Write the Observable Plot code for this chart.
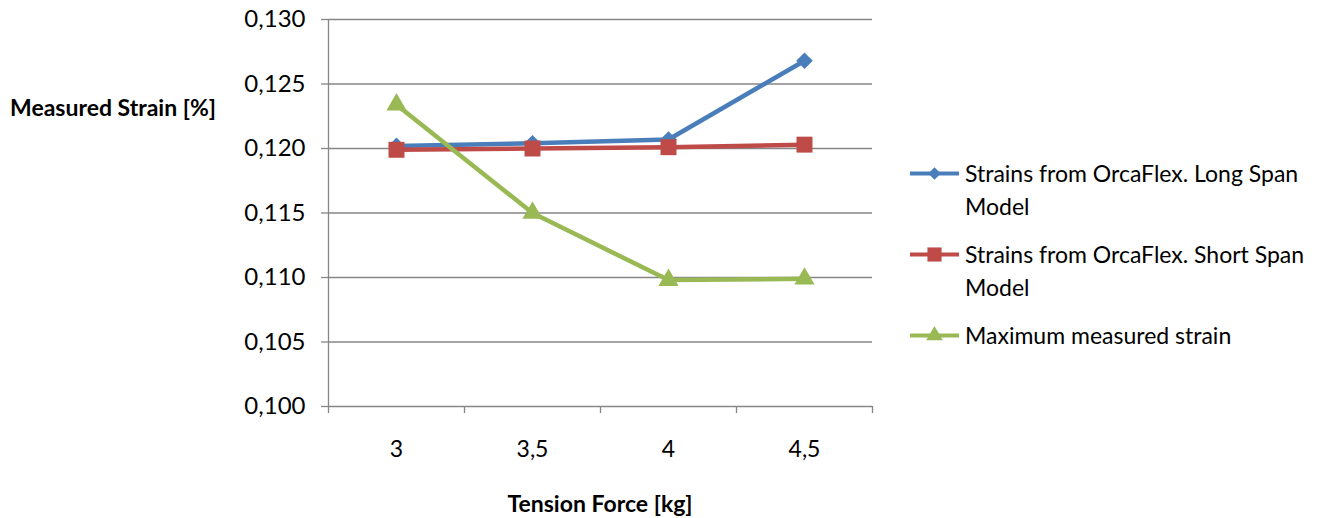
<!DOCTYPE html>
<html>
<head>
<meta charset="utf-8">
<script src="https://cdn.jsdelivr.net/npm/d3@7"></script>
<script src="https://cdn.jsdelivr.net/npm/@observablehq/plot@0.6"></script>
<style>
  html, body { margin: 0; padding: 0; background: #fff; }
  #wrap { position: relative; width: 1320px; height: 518px; font-family: Lato, "Open Sans", sans-serif; color: #000; }
  .title { position: absolute; font-weight: bold; font-size: 23px; white-space: nowrap; line-height: 1; }
  #legend { position: absolute; left: 910px; top: 157px; width: 410px; font-size: 23px; }
  .entry { display: flex; align-items: flex-start; margin-bottom: 15px; }
  .entry svg { flex: none; margin-right: 6px; }
  .entry span { line-height: 33px; width: 355px; }
</style>
</head>
<body>
<div id="wrap"></div>
<script>
const forces = [3, 3.5, 4, 4.5];
const forceLabels = ["3", "3,5", "4", "4,5"];
const xBounds = [2.75, 3.25, 3.75, 4.25, 4.75];
const seriesNames = [
  "Strains from OrcaFlex. Long Span Model",
  "Strains from OrcaFlex. Short Span Model",
  "Maximum measured strain"
];
const longSpan = [0.1202, 0.1204, 0.1207, 0.1268];
const shortSpan = [0.1199, 0.1200, 0.1201, 0.1203];
const maxMeasured = [0.1234, 0.1150, 0.1098, 0.1099];
const yTicks = [0.100, 0.105, 0.110, 0.115, 0.120, 0.125, 0.130];
const colors = ["#4a7ebb", "#be4b48", "#98b954"];
const symbols = ["diamond2", "square", "triangle"];
const yTitle = "Measured Strain [%]";
const xTitle = "Tension Force [kg]";

const seriesValues = [longSpan, shortSpan, maxMeasured];
const rows = [];
seriesNames.forEach((s, k) => forces.forEach((f, i) => rows.push({series: s, force: f, value: seriesValues[k][i]})));

const fmt = d => d3.format(".3f")(d).replace(".", ",");
const grid = "#868686";

const chart = Plot.plot({
  width: 1320, height: 518,
  marginLeft: 328, marginRight: 448, marginTop: 19, marginBottom: 112,
  x: {domain: [2.75, 4.75]},
  y: {domain: [0.100, 0.130]},
  color: {domain: seriesNames, range: colors},
  symbol: {domain: seriesNames, range: symbols},
  style: {fontFamily: "Lato, 'Open Sans', sans-serif", fontSize: "23px", color: "#000", background: "#fff", overflow: "visible"},
  marks: [
    Plot.gridY(yTicks, {stroke: grid, strokeOpacity: 1, strokeWidth: 1.3}),
    Plot.ruleX([2.75], {stroke: grid, strokeWidth: 1.3}),
    Plot.axisY(yTicks, {tickSize: 7, tickPadding: 16, tickFormat: fmt, stroke: grid, strokeWidth: 1.3, label: null, fontSize: 24, fill: "#000"}),
    Plot.axisX(xBounds, {tickSize: 7, tickFormat: () => "", stroke: grid, strokeWidth: 1.3, label: null}),
    Plot.axisX(forces, {tickSize: 0, tickPadding: 34, tickFormat: d => forceLabels[forces.indexOf(d)], label: null, fontSize: 23, fill: "#000"}),
    Plot.line(rows, {x: "force", y: "value", z: "series", stroke: "series", strokeWidth: 4.5}),
    Plot.dot(rows.filter(d => d.series === seriesNames[0]), {x: "force", y: "value", symbol: "series", fill: "series", r: 7.5}),
    Plot.dot(rows.filter(d => d.series === seriesNames[1]), {x: "force", y: "value", symbol: "series", fill: "series", r: 9}),
    Plot.dot(rows.filter(d => d.series === seriesNames[2]), {x: "force", y: "value", symbol: "series", fill: "series", r: 7.5})
  ]
});

const wrap = document.getElementById("wrap");
wrap.appendChild(chart);

const yt = document.createElement("div");
yt.className = "title";
yt.textContent = yTitle;
yt.style.left = "10px"; yt.style.top = "96px";
wrap.appendChild(yt);

const xt = document.createElement("div");
xt.className = "title";
xt.textContent = xTitle;
xt.style.left = "600px"; xt.style.top = "492px"; xt.style.transform = "translateX(-50%)";
wrap.appendChild(xt);

const legend = document.createElement("div");
legend.id = "legend";
const d3sym = {diamond2: d3.symbolDiamond2, square: d3.symbolSquare, triangle: d3.symbolTriangle};
const legendSizes = [100, 200, 120];
seriesNames.forEach((s, k) => {
  const e = document.createElement("div");
  e.className = "entry";
  const svg = d3.create("svg").attr("width", 49).attr("height", 33);
  svg.append("line").attr("x1", 0).attr("x2", 49).attr("y1", 16.5).attr("y2", 16.5)
    .attr("stroke", colors[k]).attr("stroke-width", 4);
  svg.append("path").attr("d", d3.symbol(d3sym[symbols[k]], legendSizes[k])())
    .attr("transform", "translate(24.5,16.5)").attr("fill", colors[k]);
  e.appendChild(svg.node());
  const t = document.createElement("span");
  t.textContent = s;
  e.appendChild(t);
  legend.appendChild(e);
});
wrap.appendChild(legend);
</script>
</body>
</html>
